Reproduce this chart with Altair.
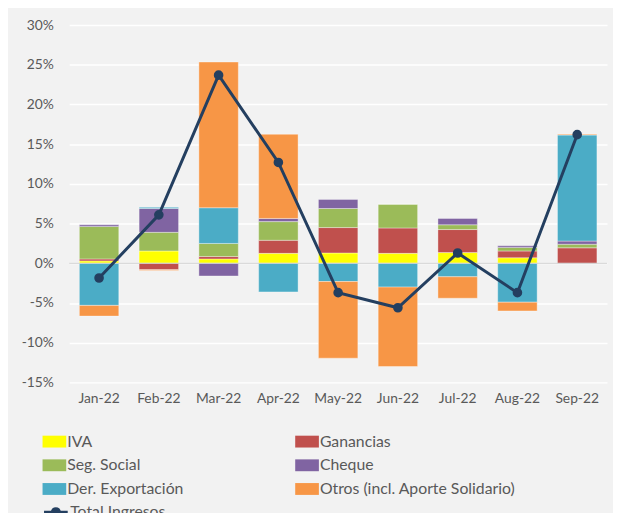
import altair as alt
import pandas as pd

months = ["Jan-22", "Feb-22", "Mar-22", "Apr-22", "May-22", "Jun-22", "Jul-22", "Aug-22", "Sep-22"]
series = ["IVA", "Ganancias", "Seg. Social", "Cheque", "Der. Exportación", "Otros (incl. Aporte Solidario)"]
colors = ["#FFFF00", "#C0504D", "#9BBB59", "#8064A2", "#4BACC6", "#F79646"]

iva = [0.3, 1.55, 0.55, 1.25, 1.3, 1.25, 1.35, 0.7, 0.0]
ganancias = [0.25, -0.8, 0.3, 1.65, 3.2, 3.2, 2.9, 0.85, 1.95]
seg_social = [4.1, 2.35, 1.65, 2.35, 2.4, 3.0, 0.6, 0.45, 0.45]
cheque = [0.2, 3.0, -1.6, 0.4, 1.15, 0.0, 0.8, 0.2, 0.4]
der_export = [-5.3, 0.15, 4.5, -3.6, -2.3, -3.0, -1.7, -4.9, 13.35]
otros = [-1.35, -0.1, 18.35, 10.6, -9.65, -10.0, -2.7, -1.1, 0.1]
total = [-1.85, 6.1, 23.7, 12.7, -3.7, -5.6, 1.3, -3.7, 16.2]

y_ticks = [-15, -10, -5, 0, 5, 10, 15, 20, 25, 30]

cols = [iva, ganancias, seg_social, cheque, der_export, otros]
rows = []
for si, (s, vals) in enumerate(zip(series, cols)):
    for m, v in zip(months, vals):
        rows.append({"month": m, "series": s, "order": si, "value": v})
bars_df = pd.DataFrame(rows)
line_df = pd.DataFrame({"month": months, "total": total, "name": ["Total Ingresos"] * len(months)})

FONT = "Lato"
TXT = "#595959"

x_enc = alt.X("month:N", sort=months, title=None,
              scale=alt.Scale(paddingInner=0.34, paddingOuter=0.17),
              axis=alt.Axis(labelAngle=0, ticks=False, domain=False, labelPadding=9,
                            labelFont=FONT, labelFontSize=14, labelColor=TXT))

bars = alt.Chart(bars_df).mark_bar(stroke="white", strokeWidth=0.6, strokeOpacity=0.6).encode(
    x=x_enc,
    y=alt.Y("value:Q", stack="zero", title=None,
            scale=alt.Scale(domain=[-15, 30], nice=False, zero=False),
            axis=alt.Axis(values=y_ticks, labelExpr="datum.value + '%'", ticks=False, domain=False,
                          labelPadding=16, gridColor="white", gridWidth=1.5,
                          labelFont=FONT, labelFontSize=14, labelColor=TXT)),
    color=alt.Color("series:N", sort=series,
                    scale=alt.Scale(domain=series, range=colors),
                    legend=alt.Legend(title=None, orient="none", legendX=-27, legendY=410,
                                      direction="horizontal",
                                      columns=2, columnPadding=113, rowPadding=4,
                                      symbolType="M-1,-0.5H1V0.5H-1Z", symbolSize=576,
                                      symbolStrokeWidth=0, labelOffset=1, labelLimit=400,
                                      labelFont=FONT, labelFontSize=16, labelColor=TXT)),
    order=alt.Order("order:Q"),
)

zero = alt.Chart(pd.DataFrame({"z": [0]})).mark_rule(color="#D0D0D0", strokeWidth=1).encode(y="z:Q")

line = alt.Chart(line_df).mark_line(color="#243F60", strokeWidth=3, point=alt.OverlayMarkDef(color="#243F60", size=60, filled=True, opacity=1)).encode(
    x=alt.X("month:N", sort=months),
    y=alt.Y("total:Q"),
    stroke=alt.Stroke("name:N", scale=alt.Scale(range=["#243F60"]),
                      legend=alt.Legend(title=None, orient="none", legendX=-27, legendY=480,
                                        symbolType="M-1,0H1M-0.3,0A0.3,0.3,0,1,1,0.3,0A0.3,0.3,0,1,1,-0.3,0",
                                        symbolSize=576, symbolStrokeWidth=3, symbolFillColor="#243F60",
                                        labelOffset=1, labelFont=FONT, labelFontSize=16, labelColor=TXT)),
)

chart = alt.layer(bars, zero, line).properties(
    width=545, height=362,
    background="#F2F2F2",
    padding={"left": 62, "top": 14, "right": 6, "bottom": 129},
    autosize=alt.AutoSizeParams(type="none"),
).configure_view(stroke=None)

chart.save("out.html", embed_options={"renderer": "svg", "actions": False})
